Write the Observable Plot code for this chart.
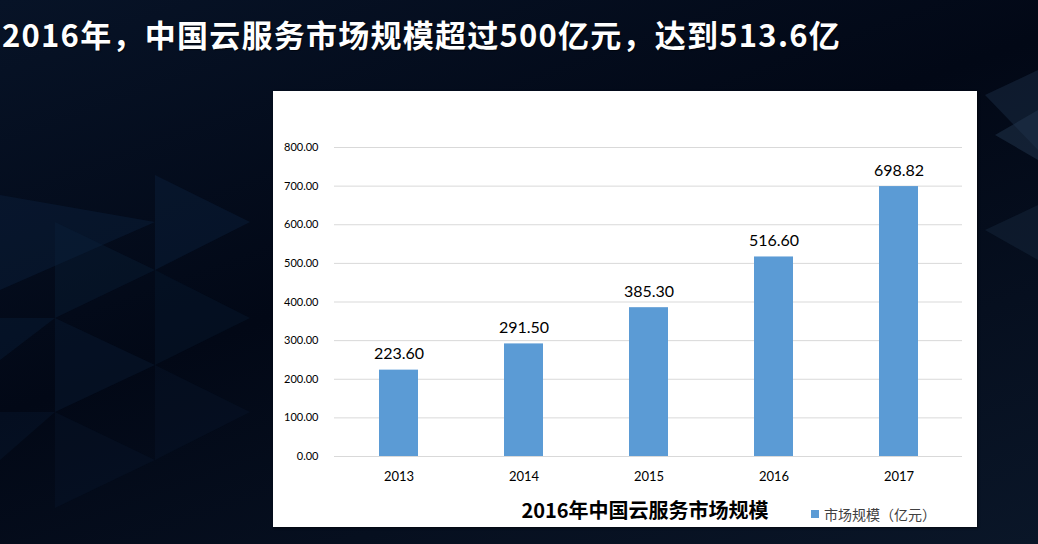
<!DOCTYPE html>
<html>
<head>
<meta charset="utf-8">
<script src="https://cdn.jsdelivr.net/npm/d3@7"></script>
<script src="https://cdn.jsdelivr.net/npm/@observablehq/plot@0.6"></script>
<style>
  html, body { margin: 0; padding: 0; }
  body {
    width: 1038px; height: 544px; overflow: hidden; position: relative;
    background: linear-gradient(160deg, #071327 0%, #020816 45%, #0a1628 100%);
    font-family: "Noto Sans CJK SC", "Noto Sans", sans-serif;
  }
  #deco { position: absolute; left: 0; top: 0; }
  #title {
    position: absolute; left: 2px; top: 11px; color: #fff;
    font-family: "Noto Sans CJK SC", sans-serif; font-weight: 700;
    font-size: 31px; letter-spacing: 1.25px; white-space: nowrap;
    text-shadow: 1px 1px 1px rgba(0,0,0,0.6);
  }
  #panel {
    position: absolute; left: 273px; top: 91px; width: 704px; height: 436px;
    background: #fff; box-shadow: 1px 1px 2px rgba(0,0,0,0.5);
  }
  #chart { position: absolute; left: 0; top: 0; }
  #axisTitle {
    position: absolute; left: 0; width: 744px; top: 404px; text-align: center;
    font-family: "Noto Sans CJK SC", sans-serif; font-weight: 700; font-size: 20px; color: #000;
  }
  #legend {
    position: absolute; left: 538px; top: 413px; font-size: 14px; color: #404040;
    font-family: "Noto Sans CJK SC", sans-serif; display: flex; align-items: center; white-space: nowrap;
  }
  #legend span.sw { display: inline-block; width: 8px; height: 8px; background: #5b9bd5; margin-right: 5px; }
</style>
</head>
<body>
<svg id="deco" width="1038" height="544">
  <polygon points="0,195 155,222 0,290" fill="#0d2440" opacity="0.4"/>
  <polygon points="155,175 250,222 155,270" fill="#0c2442" opacity="0.4"/>
  <polygon points="55,222 155,270 55,318" fill="#0b213c" opacity="0.35"/>
  <polygon points="0,318 55,318 0,360" fill="#0c233e" opacity="0.35"/>
  <polygon points="55,318 155,365 55,412" fill="#0b1f38" opacity="0.35"/>
  <polygon points="155,270 250,318 155,365" fill="#0a1d35" opacity="0.35"/>
  <polygon points="0,412 55,412 0,460" fill="#0b1f38" opacity="0.3"/>
  <polygon points="55,412 155,460 55,508" fill="#0a1c33" opacity="0.3"/>
  <polygon points="155,365 250,412 155,460" fill="#0a1c33" opacity="0.3"/>
  <polygon points="985,95 1038,70 1038,150" fill="#1a2c44" opacity="0.5"/>
  <polygon points="995,135 1038,110 1038,160" fill="#22354d" opacity="0.5"/>
  <polygon points="985,230 1038,205 1038,260" fill="#1a2c44" opacity="0.4"/>
</svg>
<div id="title">2016年，中国云服务市场规模超过500亿元，达到513.6亿</div>
<div id="panel">
  <div id="chart"></div>
  <div id="axisTitle">2016年中国云服务市场规模</div>
  <div id="legend"><span class="sw"></span>市场规模（亿元）</div>
</div>
<script>
const years = ["2013", "2014", "2015", "2016", "2017"];
const values = [223.60, 291.50, 385.30, 516.60, 698.82];
const yTicks = [0, 100, 200, 300, 400, 500, 600, 700, 800];
const seriesName = "市场规模（亿元）";

const data = years.map((y, i) => ({year: y, value: values[i]}));

const chart = Plot.plot({
  width: 704,
  height: 400,
  marginLeft: 61,
  marginRight: 15,
  marginTop: 56,
  marginBottom: 35,
  style: {background: "transparent", fontFamily: "Lato, 'Liberation Sans', sans-serif"},
  x: {domain: years, paddingInner: 0.69, paddingOuter: 0.345, label: null},
  y: {domain: [0, 800], label: null},
  marks: [
    Plot.gridY(yTicks, {stroke: "#d9d9d9", strokeOpacity: 1, strokeWidth: 1}),
    Plot.axisY(yTicks, {tickSize: 0, tickPadding: 16, tickFormat: d3.format(".2f"), fontSize: 11, fill: "#000"}),
    Plot.axisX({tickSize: 0, tickPadding: 15, fontSize: 13, fill: "#000"}),
    Plot.barY(data, {x: "year", y: "value", fill: "#5b9bd5"}),
    Plot.text(data, {x: "year", y: "value", text: d => d.value.toFixed(2), dy: -16, fontSize: 16, fill: "#000"})
  ]
});
document.getElementById("chart").appendChild(chart);
</script>
</body>
</html>
